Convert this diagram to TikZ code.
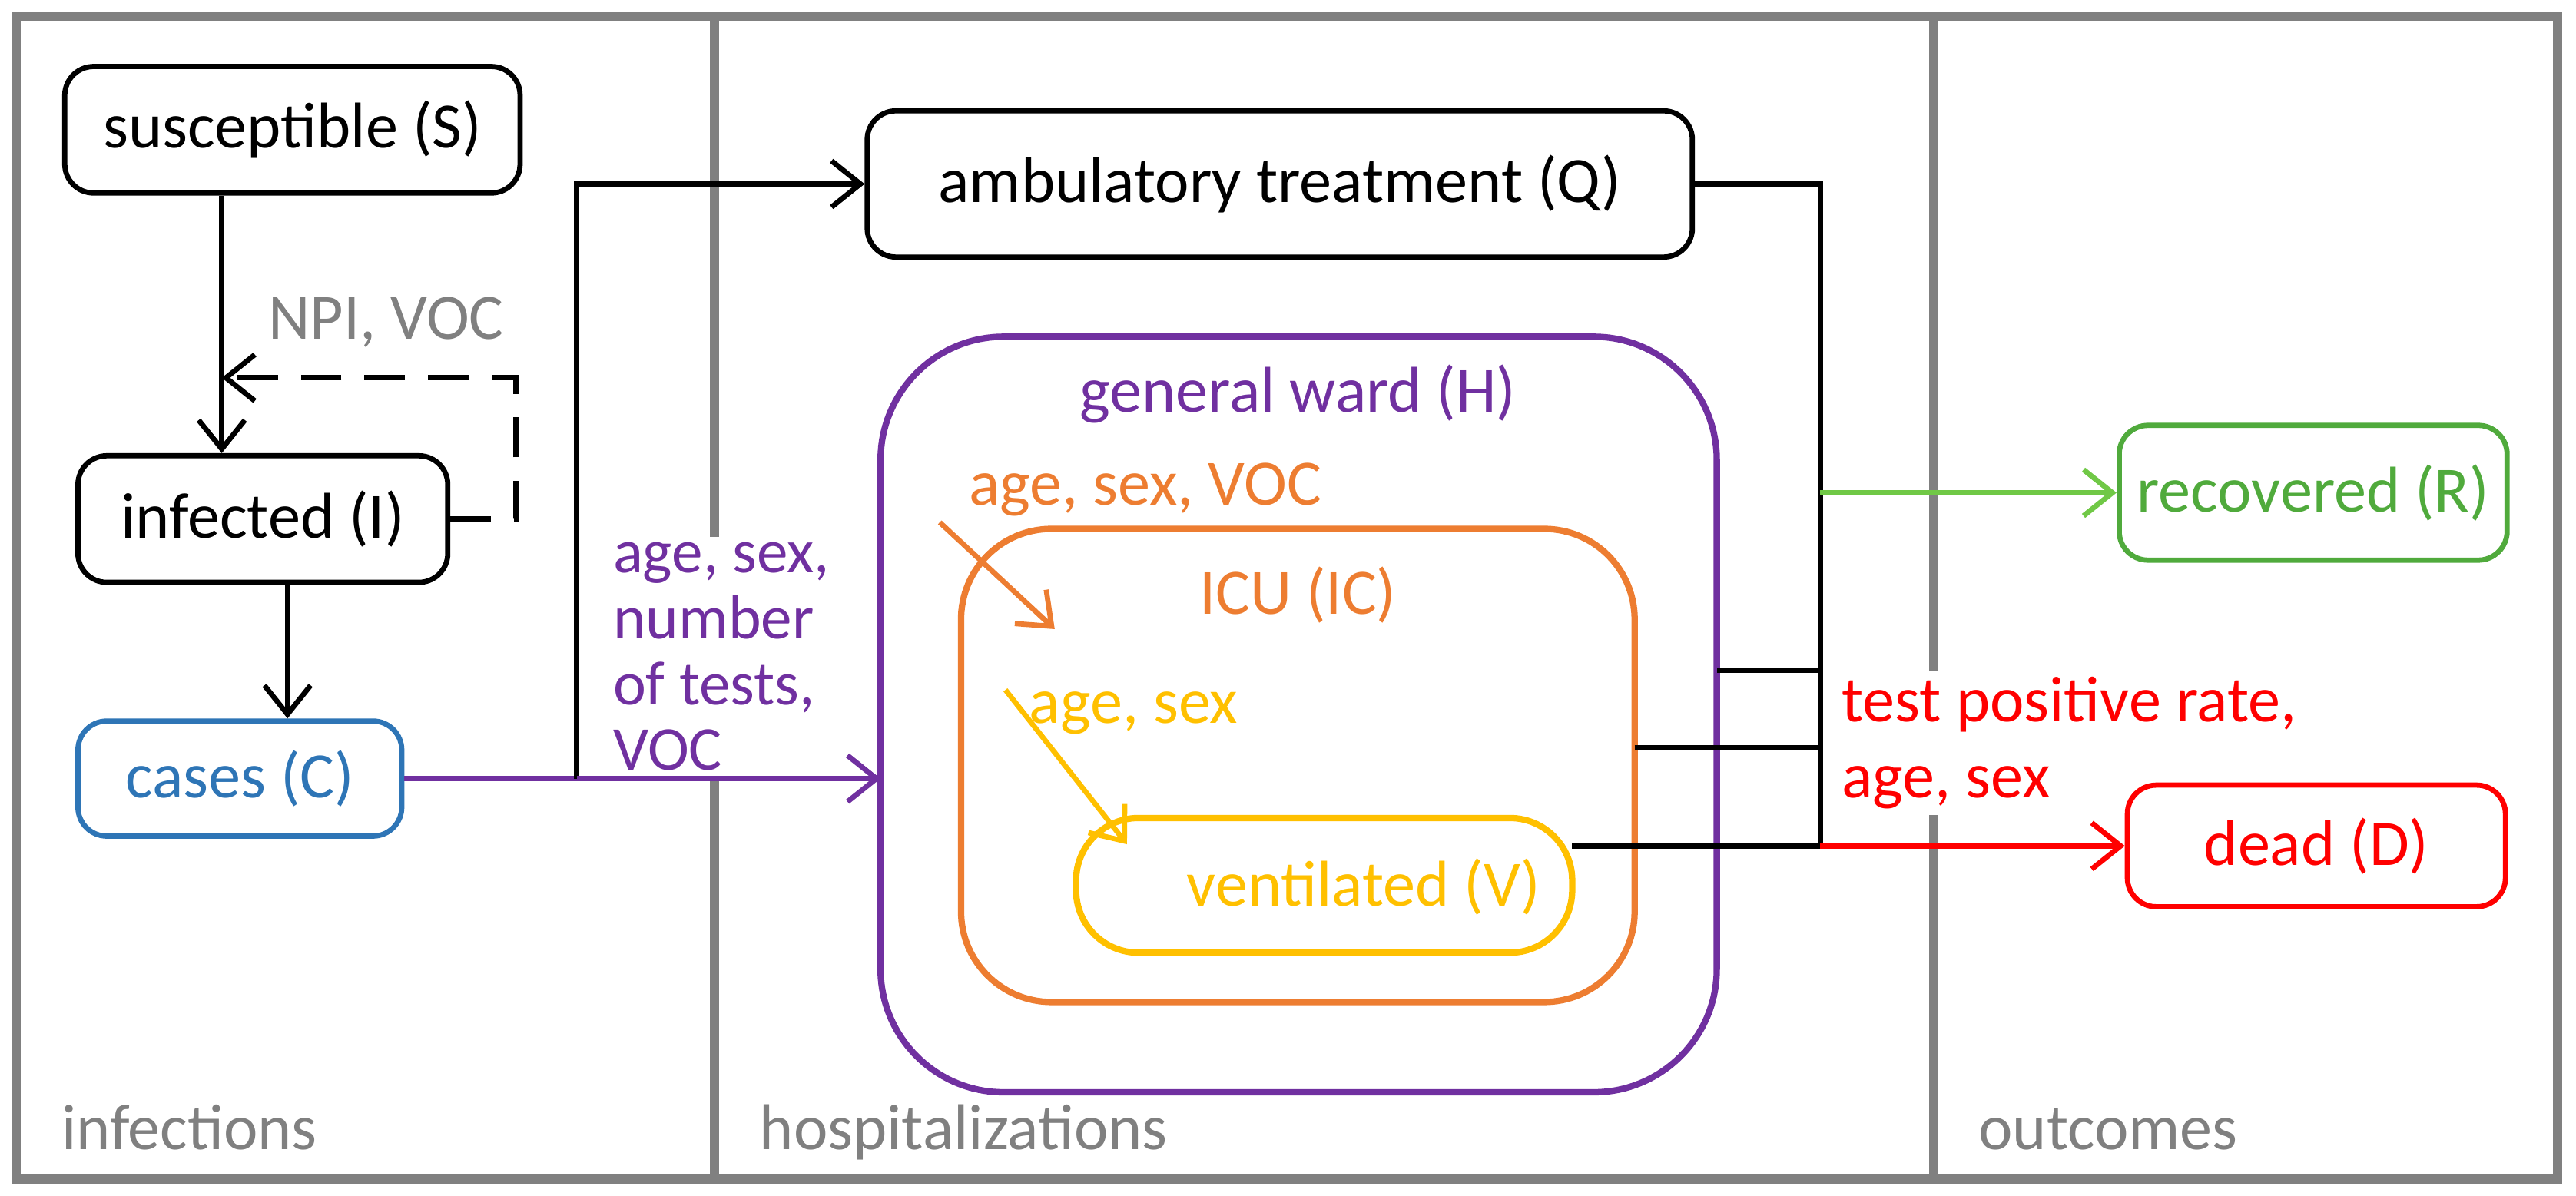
\documentclass[tikz,border=0pt]{standalone}
\usepackage{fontspec}
\setmainfont{Carlito}
\usetikzlibrary{arrows.meta}
\definecolor{pur}{RGB}{112,48,160}
\definecolor{org}{RGB}{237,125,49}
\definecolor{yel}{RGB}{255,192,0}
\definecolor{grn}{RGB}{112,200,70}
\definecolor{dgrn}{RGB}{80,170,60}
\definecolor{blu}{RGB}{46,117,182}
\definecolor{gry}{RGB}{128,128,128}
\begin{document}
\begin{tikzpicture}[x=0.01cm,y=-0.01cm,
  font=\fontsize{11.2}{13.2}\selectfont,
  box/.style={draw,line width=0.9pt,rounded corners=5pt,inner sep=0pt},
  arr/.style={line width=0.9pt,-{Straight Barb[length=5pt,width=8pt]}},
  ln/.style={line width=0.9pt},
  div/.style={gry,line width=1.6pt},
  lab/.style={gry,anchor=base west}]
\useasboundingbox (0,0) rectangle (1568,728);
\draw[div] (10,10) rectangle (1557,718);
\draw[div] (435,10) -- (435,718);
\draw[div] (1177,10) -- (1177,718);
\node[lab] (l1) at (25,700) {infections};
\node[lab] (l2) at (450,700) {hospitalizations};
\node[lab] (l3) at (1192,700) {outcomes};
% boxes
\node[box,minimum width=2.77cm,minimum height=0.77cm] (S) at (178,79) {susceptible (S)};
\node[box,minimum width=2.25cm,minimum height=0.77cm] (I) at (160,316) {infected (I)};
\node[box,draw=blu,text=blu,minimum width=1.97cm,minimum height=0.70cm] (C) at (146,474) {cases (C)};
\node[box,minimum width=5.02cm,minimum height=0.89cm] (Q) at (779,112) {ambulatory treatment (Q)};
\node[box,draw=dgrn,text=dgrn,minimum width=2.36cm,minimum height=0.82cm] (R) at (1408,300) {recovered (R)};
\draw[pur,line width=1.1pt,rounded corners=0.75cm] (536,205) rectangle (1045,665);
\draw[org,line width=1.1pt,rounded corners=0.55cm] (585,322) rectangle (995,610);
\draw[yel,line width=1.1pt,rounded corners=0.38cm] (655,498) rectangle (957,580);
\coordinate (H) at (536,474);
\node[pur] (Hl) at (790,240) {general ward (H)};
\node[org] (ICl) at (790,362) {ICU (IC)};
\node[yel] (Vl) at (830,540) {ventilated (V)};
\node[org] (a1) at (697,298) {age, sex, VOC};
\node[yel] (a2) at (690,434) {age, sex};
\coordinate (o1) at (572,318); \coordinate (o2) at (642,383);
\draw[arr,org] (o1) -- (o2);
\coordinate (y1) at (612,420); \coordinate (y2) at (686,514);
\draw[arr,yel] (y1) -- (y2);
% left flows
\draw[arr] (S.south -| 135,0) -- (I.north -| 135,0);
\coordinate (d1) at (314,316); \coordinate (d2) at (314,230); \coordinate (d3) at (135,230);
\draw[arr,dashed,dash pattern=on 7pt off 4pt] (I.east) -- (d1) -- (d2) -- (d3);
\node[gry] (npi) at (235,196) {NPI, VOC};
\draw[arr] (I.south -| 175,0) -- (C.north -| 175,0);
\coordinate (j) at (351,474);
\draw[ln,pur] (C.east) -- (j);
\draw[arr] (j) -- (351,112) -- (Q.west);
\node[pur,fill=white,align=left,inner sep=1pt,anchor=north west,font=\fontsize{10.8}{11.4}\selectfont] (pl) at (369,326) {age, sex,\\number\\of tests,\\VOC};
\draw[arr,pur] (j) -- (H);
% right collector
\coordinate (b) at (1108,515);
\draw[ln] (Q.east) -- (1108,112) -- (b);
\draw[ln] (1045,408) -- (1108,408);
\draw[ln] (995,455) -- (1108,455);
\draw[ln] (957,515) -- (b);
\draw[arr,grn] (1108,300) -- (R.west);
\node[red,fill=white,align=left,inner sep=1pt,anchor=north west] (tl) at (1117,408) {test positive rate,\\age, sex};
\node[box,draw=red,text=red,fill=white,minimum width=2.30cm,minimum height=0.74cm] (D) at (1410,515) {dead (D)};
\draw[arr,red] (b) -- (D.west);
\end{tikzpicture}
\end{document}
